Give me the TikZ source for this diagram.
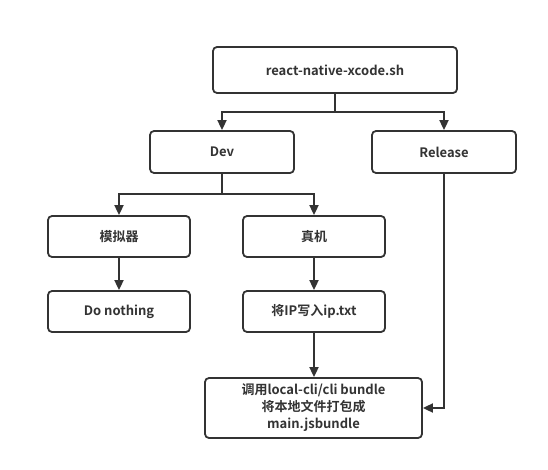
\documentclass[tikz,border=0pt]{standalone}
\usepackage{fontspec}
\setmainfont{Noto Sans CJK SC}[BoldFont={* Bold}]
\usetikzlibrary{arrows.meta}
\definecolor{ln}{HTML}{333333}
\begin{document}
\begin{tikzpicture}[x=1pt,y=-1pt,
  box/.style={draw=ln,line width=1.8pt,rounded corners=4pt,fill=white,inner sep=0pt,
    font=\fontsize{13}{17}\selectfont\bfseries,text=ln,align=center},
  conn/.style={draw=ln,line width=1.8pt,-{Triangle[length=10pt,width=9pt]}}]
\useasboundingbox (0,0) rectangle (548,470);
\node[box,minimum width=244pt,minimum height=46pt] (top) at (335,70) {react-native-xcode.sh};
\node[box,minimum width=144pt,minimum height=42pt] (dev) at (222,152) {Dev};
\node[box,minimum width=144pt,minimum height=42pt] (rel) at (444,152) {Release};
\node[box,minimum width=142pt,minimum height=41pt] (sim) at (119,236.5) {模拟器};
\node[box,minimum width=142pt,minimum height=41pt] (dev2) at (314,236.5) {真机};
\node[box,minimum width=142pt,minimum height=41pt] (nothing) at (119,311.5) {Do nothing};
\node[box,minimum width=142pt,minimum height=41pt] (ip) at (314,311.5) {将IP写入ip.txt};
\node[box,minimum width=217pt,minimum height=60pt] (bundle) at (313.5,408) {调用local-cli/cli bundle\\将本地文件打包成\\main.jsbundle};
\coordinate (j1) at (335,112);
\coordinate (j2) at (222,194);
\draw[draw=ln,line width=1.8pt] (top.south) -- (j1);
\draw[conn] (j1) -| (dev.north);
\draw[conn] (j1) -| (rel.north);
\draw[draw=ln,line width=1.8pt] (dev.south) -- (j2);
\draw[conn] (j2) -| (sim.north);
\draw[conn] (j2) -| (dev2.north);
\draw[conn] (sim) -- (nothing);
\draw[conn] (dev2) -- (ip);
\draw[conn] (ip.south) -- (ip.south |- bundle.north);
\draw[conn] (rel.south) |- (bundle.east);
\end{tikzpicture}
\end{document}
